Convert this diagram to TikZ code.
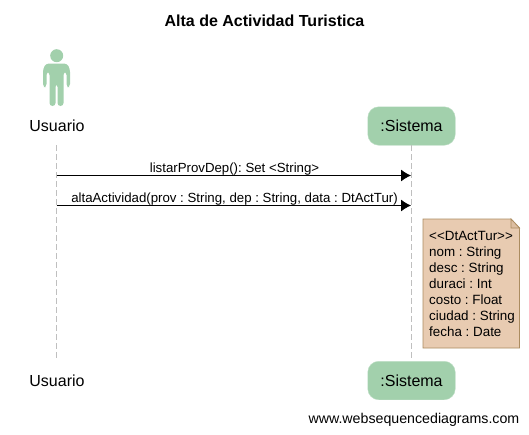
\documentclass[tikz,border=0pt]{standalone}
\usepackage{fontspec}
\setmainfont{Liberation Sans}
\usetikzlibrary{arrows.meta}
\definecolor{actorgreen}{HTML}{A2D0AC}
\definecolor{notefill}{HTML}{E8CBB1}
\definecolor{noteline}{HTML}{AB8C60}
\frenchspacing
\tikzset{
    title/.style={font=\fontsize{16}{18}\bfseries\selectfont,anchor=center,inner sep=0pt},
    actorname/.style={font=\fontsize{16}{19}\selectfont,inner sep=0pt},
    sysbox/.style={fill=actorgreen,draw=actorgreen!70!white,rounded corners=11pt,minimum width=87.5pt,minimum height=38.5pt,inner sep=0pt,font=\fontsize{16}{19}\selectfont},
    msg/.style={font=\fontsize{13.25}{15}\selectfont,inner sep=0pt,anchor=base},
    call/.style={line width=0.9pt,-{Latex[length=10pt,width=12pt,sharp]}},
    lifeline/.style={gray!50,line width=0.9pt,dash pattern=on 6pt off 3pt},
}
\begin{document}
\begin{tikzpicture}[x=1pt,y=-1pt]
    \useasboundingbox (0,0) rectangle (529,434);

    \node[title] (title) at (264.5,21) {Alta de Actividad Turistica};

    % lifelines
    \coordinate (usertop) at (56.5,145);
    \coordinate (userbot) at (56.5,358);
    \node[sysbox] (systop) at (411.5,126) {:Sistema};
    \node[sysbox] (sysbot) at (411.5,380.5) {:Sistema};
    \draw[lifeline] (usertop) -- (userbot);
    \draw[lifeline] (systop) -- (sysbot);

    % actor figure
    \fill[actorgreen] (56.7,55.7) circle (6.5);
    \fill[actorgreen,rounded corners=3pt] (43,87) -- (43,69) -- (46,63.5) -- (67,63.5) -- (70,69) -- (70,87)
        -- (66.5,87) -- (66.5,72) -- (63.5,72) -- (63.5,106) -- (57.5,106) -- (57.5,84) -- (55.5,84)
        -- (55.5,106) -- (49.5,106) -- (49.5,72) -- (46.5,72) -- (46.5,87) -- cycle;

    \node[actorname] (usertxt) at (57,125.5) {Usuario};
    \node[actorname] (userbottxt) at (57,380.5) {Usuario};

    % messages
    \coordinate (a1) at (56.5,175.5);
    \coordinate (b1) at (411,175.5);
    \coordinate (a2) at (56.5,205.5);
    \coordinate (b2) at (411,205.5);
    \draw[call] (a1) -- (b1);
    \draw[call] (a2) -- (b2);
    \node[msg] (listar) at (234.5,172) {listarProvDep(): Set <String>};
    \node[msg] (alta) at (234.5,202) {altaActividad(prov : String, dep : String, data : DtActTur)};

    % note
    \draw[fill=notefill,draw=noteline,line width=0.9pt] (423,219) -- (511,219) -- (519.5,228) -- (519.5,348) -- (423,348) -- cycle;
    \draw[fill=notefill!80!noteline,draw=noteline,line width=0.7pt] (511,219) -- (511,228) -- (519.5,228) -- cycle;
    \node[msg,anchor=north west,align=left,font=\fontsize{13.4}{16}\selectfont] (dtact) at (429,231.5)
        {<{}<DtActTur>{}>\\nom : String\\desc : String\\duraci : Int\\costo : Float\\ciudad : String\\fecha : Date};

    \node[font=\fontsize{14.2}{17}\selectfont,inner sep=0pt,anchor=east] (wsd) at (519.5,419.5) {www.websequencediagrams.com};
\end{tikzpicture}
\end{document}
